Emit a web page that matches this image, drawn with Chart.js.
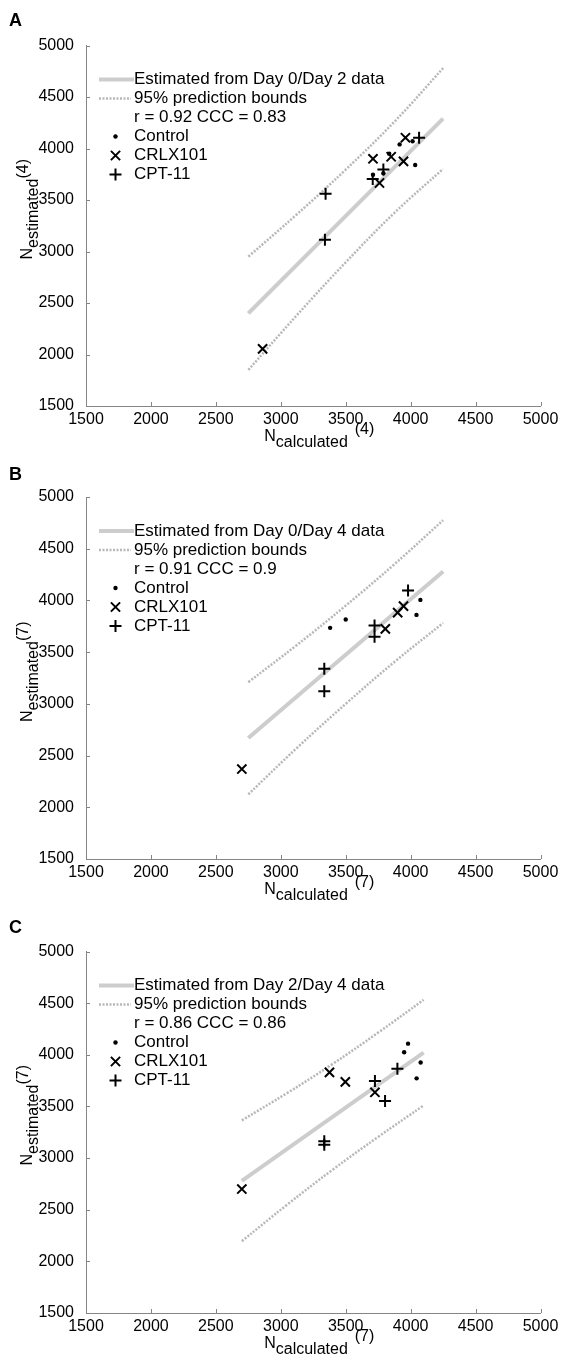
<!DOCTYPE html>
<html>
<head>
<meta charset="utf-8">
<script src="https://cdn.jsdelivr.net/npm/chart.js@4.4.1/dist/chart.umd.min.js"></script>
<style>
  html, body { margin: 0; padding: 0; background: #fff; }
  #wrap { position: relative; width: 561px; height: 1357px; }
  canvas { position: absolute; left: 0; display: block; }
</style>
</head>
<body>
<div id="wrap">
  <canvas id="chartA" width="561" height="460" style="top:0"></canvas>
  <canvas id="chartB" width="561" height="460" style="top:450px"></canvas>
  <canvas id="chartC" width="561" height="457" style="top:900px"></canvas>
</div>
<script>
/* ===== Data ===== */
const AXIS_TICKS = [1500, 2000, 2500, 3000, 3500, 4000, 4500, 5000];
const GROUPS = ['Control', 'CRLX101', 'CPT-11'];
const BOUNDS_LABEL = '95% prediction bounds';

// A: day-4 count predicted from day 0 / day 2
const fitA   = [[2750, 2400], [4250, 4290]];
const upperA = [[2750, 2950], [3125, 3362], [3500, 3795], [3875, 4260], [4250, 4780]];
const lowerA = [[2750, 1850], [3125, 2383], [3500, 2895], [3875, 3375], [4250, 3802]];
const controlA = [[3710, 3745], [3790, 3760], [3835, 3950], [3915, 4040], [4015, 4070], [4035, 3840]];
const crlxA    = [[2860, 2055], [3710, 3900], [3760, 3665], [3850, 3920], [3945, 3875], [3960, 4105]];
const cptA     = [[3345, 3560], [3340, 3115], [3708, 3705], [3790, 3795], [4065, 4105]];

// B: day-7 count predicted from day 0 / day 4
const fitB   = [[2750, 2670], [4250, 4280]];
const upperB = [[2750, 3210], [3125, 3570], [3500, 3950], [3875, 4350], [4250, 4775]];
const lowerB = [[2750, 2125], [3125, 2575], [3500, 3000], [3875, 3405], [4250, 3782]];
const controlB = [[3380, 3735], [3500, 3815], [4075, 4005], [4045, 3860]];
const crlxB    = [[2700, 2370], [3805, 3725], [3900, 3882], [3945, 3945]];
const cptB     = [[3980, 4095], [3722, 3758], [3722, 3650], [3335, 3340], [3335, 3123]];

// C: day-7 count predicted from day 2 / day 4
const fitC   = [[2700, 2780], [4100, 4020]];
const upperC = [[2700, 3365], [3050, 3630], [3400, 3912], [3750, 4215], [4100, 4532]];
const lowerC = [[2700, 2195], [3050, 2550], [3400, 2888], [3750, 3205], [4100, 3510]];
const controlC = [[3980, 4108], [3950, 4025], [4077, 3925], [4046, 3772]];
const crlxC    = [[2700, 2700], [3375, 3830], [3497, 3738], [3725, 3637]];
const cptC     = [[3898, 3865], [3725, 3745], [3803, 3552], [3335, 3163], [3335, 3130]];

const fitLabels  = ['Estimated from Day 0/Day 2 data', 'Estimated from Day 0/Day 4 data', 'Estimated from Day 2/Day 4 data'];
const statLabels = ['r = 0.92 CCC = 0.83', 'r = 0.91 CCC = 0.9', 'r = 0.86 CCC = 0.86'];
const dayLabels  = ['(4)', '(7)', '(7)'];

/* ===== Style ===== */
const FONT = '"Liberation Sans", Arial, Helvetica, sans-serif';
const AXIS_COLOR = '#858585';
const FIT_COLOR = '#cdcdcd';
const BOUND_COLOR = '#b8b8b8';

const xy = arr => arr.map(([x, y]) => ({ x, y }));

// letters, sub/superscript titles, inward ticks and the legend
const panelDecor = {
  id: 'panelDecor',
  afterDraw(chart, args, o) {
    const { ctx, chartArea: { left, right, top, bottom }, scales: { x, y } } = chart;
    ctx.save();

    // inward tick marks
    ctx.strokeStyle = AXIS_COLOR;
    ctx.lineWidth = 1;
    ctx.beginPath();
    x.ticks.forEach(t => {
      const px = Math.round(x.getPixelForValue(t.value)) + 0.5;
      ctx.moveTo(px, bottom); ctx.lineTo(px, bottom - 4);
    });
    y.ticks.forEach(t => {
      const py = Math.round(y.getPixelForValue(t.value)) + 0.5;
      ctx.moveTo(left, py); ctx.lineTo(left + 4, py);
    });
    ctx.stroke();

    ctx.fillStyle = '#000';

    // panel letter
    ctx.font = `bold 18px ${FONT}`;
    ctx.textBaseline = 'alphabetic';
    ctx.textAlign = 'left';
    ctx.fillText(o.letter, 9, o.letterY);

    // axis titles: N with subscript and superscript
    const widthOf = ps => ps.reduce((w, p) => { ctx.font = `${p.size}px ${FONT}`; return w + (p.lead || 0) + ctx.measureText(p.text).width; }, 0);
    const drawParts = (ps, x0, y0) => {
      let cx = x0;
      ps.forEach(p => {
        cx += p.lead || 0;
        ctx.font = `${p.size}px ${FONT}`;
        ctx.fillText(p.text, cx, y0 + p.dy);
        cx += ctx.measureText(p.text).width;
      });
    };
    const xt = [
      { text: 'N', size: 16, dy: 0 },
      { text: 'calculated', size: 16, dy: 6 },
      { text: o.day, size: 16, dy: -7, lead: 7 }
    ];
    drawParts(xt, (left + right) / 2 + 6 - widthOf(xt) / 2, bottom + 35);

    const yt = [
      { text: 'N', size: 16, dy: 0 },
      { text: 'estimated', size: 16, dy: 6 },
      { text: o.day, size: 16, dy: -4 }
    ];
    ctx.save();
    ctx.translate(32, top + o.yTitle);
    ctx.rotate(-Math.PI / 2);
    drawParts(yt, 0, 0);
    ctx.restore();

    // legend
    const ds = chart.data.datasets;
    const rowY = i => top + 34 + i * 19;
    const textX = left + 48;
    const rows = [
      { kind: 'line', set: ds[3] },
      { kind: 'line', set: ds[4] },
      { kind: 'text', label: o.stat },
      { kind: 'point', set: ds[0] },
      { kind: 'point', set: ds[1] },
      { kind: 'point', set: ds[2] }
    ];
    rows.forEach((r, i) => {
      const yy = rowY(i);
      if (r.kind === 'line') {
        ctx.save();
        ctx.strokeStyle = r.set.borderColor;
        ctx.lineWidth = r.set.borderWidth;
        ctx.setLineDash(r.set.borderDash || []);
        ctx.beginPath();
        ctx.moveTo(left + 13, yy);
        ctx.lineTo(left + (r.set.borderDash ? 45 : 48), yy);
        ctx.stroke();
        ctx.restore();
      } else if (r.kind === 'point') {
        ctx.save();
        ctx.fillStyle = '#000';
        ctx.strokeStyle = '#000';
        ctx.lineWidth = r.set.borderWidth;
        Chart.helpers.drawPoint(ctx, {
          pointStyle: r.set.pointStyle, radius: r.set.pointRadius,
          borderWidth: r.set.borderWidth, rotation: 0
        }, left + 29.5, yy);
        ctx.restore();
      }
      ctx.font = `17px ${FONT}`;
      ctx.textBaseline = 'middle';
      ctx.fillStyle = '#000';
      ctx.fillText(r.kind === 'text' ? r.label : r.set.label, textX, yy);
    });

    ctx.restore();
  }
};

const panels = [
  { id: 'chartA', letter: 'A', top: 45.5, bottom: 406, letterY: 26, yTitle: 214,
    fit: fitA, upper: upperA, lower: lowerA, control: controlA, crlx: crlxA, cpt: cptA },
  { id: 'chartB', letter: 'B', top: 47, bottom: 409, letterY: 29.5, yTitle: 225,
    fit: fitB, upper: upperB, lower: lowerB, control: controlB, crlx: crlxB, cpt: cptB },
  { id: 'chartC', letter: 'C', top: 51.5, bottom: 413, letterY: 32.5, yTitle: 214,
    fit: fitC, upper: upperC, lower: lowerC, control: controlC, crlx: crlxC, cpt: cptC }
];

panels.forEach((p, i) => {
  const canvas = document.getElementById(p.id);
  const H = canvas.height;
  const tickFont = { family: FONT, size: 16 };
  const axis = (fitFn, pad) => ({
    type: 'linear', min: 1500, max: 5000,
    afterBuildTicks: s => { s.ticks = AXIS_TICKS.map(v => ({ value: v })); },
    afterFit: fitFn,
    grid: { display: false },
    border: { display: true, color: AXIS_COLOR, width: 1 },
    ticks: { color: '#000', font: tickFont, autoSkip: false, maxRotation: 0, padding: pad,
             callback: v => String(v) }
  });

  new Chart(canvas, {
    type: 'scatter',
    plugins: [panelDecor],
    data: {
      datasets: [
        { label: GROUPS[0], data: xy(p.control), pointStyle: 'circle', pointRadius: 2.2, pointHoverRadius: 2.2,
          backgroundColor: '#000', borderColor: '#000', borderWidth: 0, order: 0 },
        { label: GROUPS[1], data: xy(p.crlx), pointStyle: 'crossRot', pointRadius: 6.5, pointHoverRadius: 6.5,
          borderColor: '#000', backgroundColor: '#000', borderWidth: 2, order: 0 },
        { label: GROUPS[2], data: xy(p.cpt), pointStyle: 'cross', pointRadius: 6, pointHoverRadius: 6,
          borderColor: '#000', backgroundColor: '#000', borderWidth: 2, order: 0 },
        { label: fitLabels[i], data: xy(p.fit), showLine: true, pointRadius: 0,
          borderColor: FIT_COLOR, borderWidth: 4, order: 2 },
        { label: BOUNDS_LABEL, data: xy(p.upper), showLine: true, pointRadius: 0, tension: 0.4,
          borderColor: BOUND_COLOR, borderWidth: 2.5, borderDash: [2, 1.5], order: 1 },
        { label: BOUNDS_LABEL, data: xy(p.lower), showLine: true, pointRadius: 0, tension: 0.4,
          borderColor: BOUND_COLOR, borderWidth: 2.5, borderDash: [2, 1.5], order: 1 }
      ]
    },
    options: {
      responsive: false,
      animation: false,
      events: [],
      layout: { padding: { top: p.top, right: 20.5, left: 0, bottom: 0 } },
      plugins: {
        legend: { display: false },
        tooltip: { enabled: false },
        panelDecor: { letter: p.letter, letterY: p.letterY, yTitle: p.yTitle, day: dayLabels[i], stat: statLabels[i] }
      },
      scales: {
        x: axis(s => { s.height = H - p.bottom; }, -4),
        y: axis(s => { s.width = 86; }, 4)
      }
    }
  });
});
</script>
</body>
</html>
